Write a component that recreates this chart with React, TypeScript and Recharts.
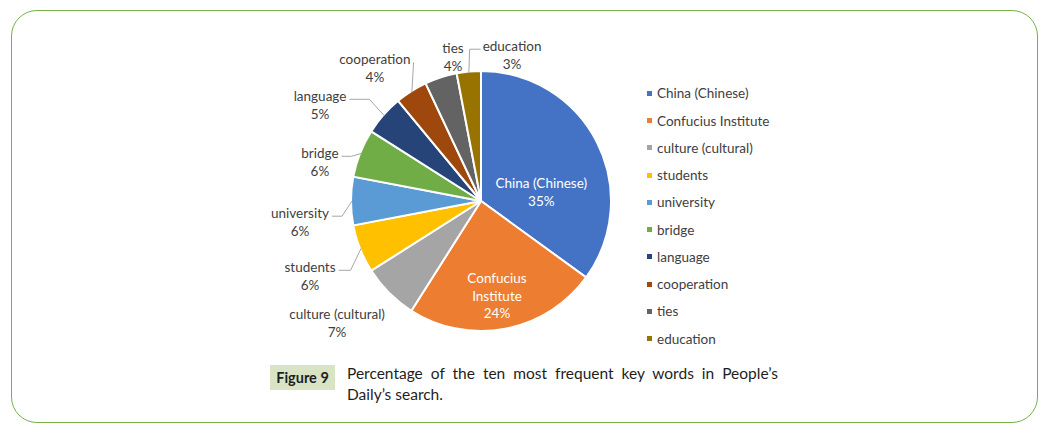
import React from 'react';
import { PieChart, Pie, Cell, Legend } from 'recharts';

// ---- data ----
const categories = [
  'China (Chinese)',
  'Confucius Institute',
  'culture (cultural)',
  'students',
  'university',
  'bridge',
  'language',
  'cooperation',
  'ties',
  'education',
];
const shares = [35, 24, 7, 6, 6, 6, 5, 4, 4, 3];
const colors = ['#4472C4', '#ED7D31', '#A5A5A5', '#FFC000', '#5B9BD5', '#70AD47', '#264478', '#9E480E', '#636363', '#997300'];
const labelTexts = [
  ['China (Chinese)'],
  ['Confucius', 'Institute'],
  ['culture (cultural)'],
  ['students'],
  ['university'],
  ['bridge'],
  ['language'],
  ['cooperation'],
  ['ties'],
  ['education'],
];

// ---- label placement (polar, relative to pie centre) ----
const labelAngles = [8.5, -80.4, -139.7, -156.3, -173.4, 166.4, 149.2, 128.6, 101, 78];
const labelRadii = [61, 96, 188.7, 186.7, 182.2, 165.7, 187.4, 170, 146.7, 149.3];
const leaderSides = ['none', 'none', 'none', 'right', 'right', 'right', 'right', 'right', 'none', 'left'];
const leaderElbows = [0, 0, 0, 12, 10, 10, 20, 0, 0, 11];

const FONT = 'Lato, "Noto Sans", sans-serif';
const LABEL_SIZE = 13.5;

const data = categories.map((name, i) => ({ name, value: shares[i] }));
const total = shares.reduce((a, b) => a + b, 0);

let ctx: CanvasRenderingContext2D | null = null;
const measure = (t: string) => {
  if (!ctx) {
    const c = document.createElement('canvas');
    ctx = c.getContext('2d');
  }
  if (!ctx) return t.length * 6.5;
  ctx.font = `${LABEL_SIZE}px Lato`;
  return ctx.measureText(t).width;
};

const RAD = Math.PI / 180;

const renderLabel = (props: any) => {
  const { cx, cy, midAngle, outerRadius } = props;
  const name = props.name ?? props.payload?.name;
  const i = categories.indexOf(name);
  if (i < 0) return null;
  const a = labelAngles[i];
  const r = labelRadii[i];
  const lx = cx + r * Math.cos(-a * RAD);
  const ly = cy + r * Math.sin(-a * RAD);
  const pct = Math.round(((props.percent ?? shares[i] / total) as number) * 100);
  const lines = [...labelTexts[i], `${pct}%`];
  const lh = 17.5;
  const top = ly - ((lines.length - 1) * lh) / 2;
  const inside = i < 2;
  const color = inside ? '#ffffff' : '#404040';
  let leader = null;
  const side = leaderSides[i];
  if (side !== 'none') {
    const w = measure(lines[0]);
    const y0 = top + 3;
    const sx = side === 'right' ? lx + w / 2 + 3 : lx - w / 2 - 2;
    const ex = side === 'right' ? sx + leaderElbows[i] : sx - leaderElbows[i];
    const px = cx + (outerRadius - 1) * Math.cos(-midAngle * RAD);
    const py = cy + (outerRadius - 1) * Math.sin(-midAngle * RAD);
    leader = (
      <polyline
        points={`${sx},${y0} ${ex},${y0} ${px},${py}`}
        fill="none"
        stroke="#a6a6a6"
        strokeWidth={1}
      />
    );
  }
  return (
    <g key={`lbl-${i}`}>
      {leader}
      {lines.map((t, k) => (
        <text
          key={k}
          x={lx}
          y={top + k * lh}
          textAnchor="middle"
          dominantBaseline="central"
          fill={color}
          fontFamily={FONT}
          fontSize={LABEL_SIZE}
        >
          {t}
        </text>
      ))}
    </g>
  );
};

const renderLegend = () => (
  <div style={{ fontFamily: FONT, fontSize: LABEL_SIZE, color: '#404040' }}>
    {categories.map((c, i) => (
      <div key={c} style={{ height: 27.25, display: 'flex', alignItems: 'center' }}>
        <span style={{ width: 5, height: 5, background: colors[i], display: 'inline-block', marginRight: 5 }} />
        <span style={{ whiteSpace: 'nowrap' }}>{c}</span>
      </div>
    ))}
  </div>
);

export default function App() {
  return (
    <div style={{ position: 'absolute', left: 0, top: 0, width: 1060, height: 435, background: '#fff', overflow: 'hidden' }}>
      <div
        style={{
          position: 'absolute',
          left: 10.5,
          top: 9.5,
          width: 1027,
          height: 413,
          border: '1.5px solid #78b04a',
          borderRadius: 26,
          boxSizing: 'border-box',
        }}
      />
      <div style={{ position: 'absolute', left: 0, top: 0 }}>
        <PieChart width={1060} height={435} margin={{ top: 0, right: 0, bottom: 0, left: 0 }}>
          <Pie
            data={data}
            dataKey="value"
            nameKey="name"
            cx={481}
            cy={201}
            outerRadius={130}
            startAngle={90}
            endAngle={-270}
            stroke="#ffffff"
            strokeWidth={2}
            label={renderLabel}
            labelLine={false}
            isAnimationActive={false}
          >
            {data.map((d, i) => (
              <Cell key={d.name} fill={colors[i]} />
            ))}
          </Pie>
          <Legend
            layout="vertical"
            align="right"
            verticalAlign="top"
            content={renderLegend}
            wrapperStyle={{ position: 'absolute', left: 647, top: 79.7, width: 200 }}
          />
        </PieChart>
      </div>
      <div
        style={{
          position: 'absolute',
          left: 270,
          top: 365,
          width: 65,
          height: 25,
          background: '#d8e4c4',
          fontFamily: FONT,
          fontWeight: 700,
          fontSize: 14.5,
          color: '#1e1e1e',
          display: 'flex',
          alignItems: 'center',
          justifyContent: 'center',
        }}
      >
        Figure 9
      </div>
      <div
        style={{
          position: 'absolute',
          left: 347,
          top: 363,
          width: 431,
          fontFamily: FONT,
          fontSize: 15.5,
          lineHeight: '20.5px',
          color: '#1e1e1e',
        }}
      >
        <div style={{ textAlign: 'justify', textAlignLast: 'justify', whiteSpace: 'nowrap' } as React.CSSProperties}>
          Percentage of the ten most frequent key words in People’s
        </div>
        <div>Daily’s search.</div>
      </div>
    </div>
  );
}
